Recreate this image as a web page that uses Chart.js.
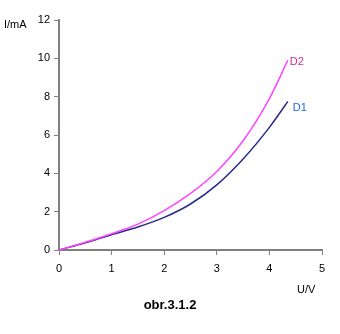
<!DOCTYPE html>
<html>
<head>
<meta charset="utf-8">
<script src="https://cdn.jsdelivr.net/npm/chart.js@4"></script>
<style>
  html, body { margin: 0; padding: 0; background: #fff; }
  #wrap { width: 340px; height: 334px; }
</style>
</head>
<body>
<div id="wrap"><canvas id="myChart" width="340" height="334"></canvas></div>
<script>
// napeti U (V) a proudy I (mA)
const napeti = [0, 0.5, 1, 1.5, 2, 2.5, 3, 3.5, 4, 4.35];
const proudD1 = [0, 0.38, 0.8, 1.2, 1.7, 2.4, 3.4, 4.75, 6.4, 7.75];
const proudD2 = [0, 0.4, 0.85, 1.35, 2.05, 2.95, 4.1, 5.7, 7.9, 9.9];
const xTicks = [0, 1, 2, 3, 4, 5];
const yTicks = [0, 2, 4, 6, 8, 10, 12];

const body = (arr) => napeti.map((u, i) => ({ x: u, y: arr[i] }));

// popisky os, krivek a nazev obrazku
const popisky = {
  id: "popisky",
  afterDraw(chart) {
    const c = chart.ctx;
    const sx = chart.scales.x, sy = chart.scales.y;
    c.save();
    c.font = "11px 'Liberation Sans', Arial, sans-serif";
    c.textBaseline = "middle";
    c.fillStyle = "#000";
    c.textAlign = "left";
    c.fillText("I/mA", 4, 25);
    c.fillText("U/V", 297, 290);

    const n = napeti.length - 1;
    c.fillStyle = "#cc2a9a";
    c.fillText("D2", sx.getPixelForValue(napeti[n]) + 2, sy.getPixelForValue(proudD2[n]) + 2);
    c.fillStyle = "#1a6be0";
    c.fillText("D1", sx.getPixelForValue(napeti[n]) + 5, sy.getPixelForValue(proudD1[n]) + 7);

    c.fillStyle = "#000";
    c.font = "bold 13px 'Liberation Sans', Arial, sans-serif";
    c.textAlign = "center";
    c.fillText("obr.3.1.2", 170, 305);
    c.restore();
  }
};

const osa = {
  type: "linear",
  grid: { drawOnChartArea: false, drawTicks: true, tickLength: 5, color: "#808080" },
  border: { color: "#808080", width: 2 },
};

new Chart(document.getElementById("myChart").getContext("2d"), {
  type: "scatter",
  data: {
    datasets: [
      { label: "D2", data: body(proudD2), showLine: true, borderColor: "#ff44ff", borderWidth: 1.5, pointRadius: 0, cubicInterpolationMode: "monotone" },
      { label: "D1", data: body(proudD1), showLine: true, borderColor: "#2a2a8c", borderWidth: 1.5, pointRadius: 0, cubicInterpolationMode: "monotone" }
    ]
  },
  options: {
    responsive: false,
    animation: false,
    layout: { padding: { top: 20, right: 18, left: 0, bottom: 0 } },
    plugins: { legend: { display: false }, tooltip: { enabled: false } },
    scales: {
      x: Object.assign({}, osa, {
        min: 0, max: 5,
        afterBuildTicks: (s) => { s.ticks = xTicks.map(v => ({ value: v })); },
        afterFit: (s) => { s.height = 84; },
        ticks: { color: "#000", padding: 7, font: { family: "'Liberation Sans', Arial, sans-serif", size: 11 } }
      }),
      y: Object.assign({}, osa, {
        min: 0, max: 12,
        afterBuildTicks: (s) => { s.ticks = yTicks.map(v => ({ value: v })); },
        afterFit: (s) => { s.width = 59; },
        ticks: { color: "#000", padding: 4, font: { family: "'Liberation Sans', Arial, sans-serif", size: 11 } }
      })
    }
  },
  plugins: [popisky]
});
</script>
</body>
</html>
